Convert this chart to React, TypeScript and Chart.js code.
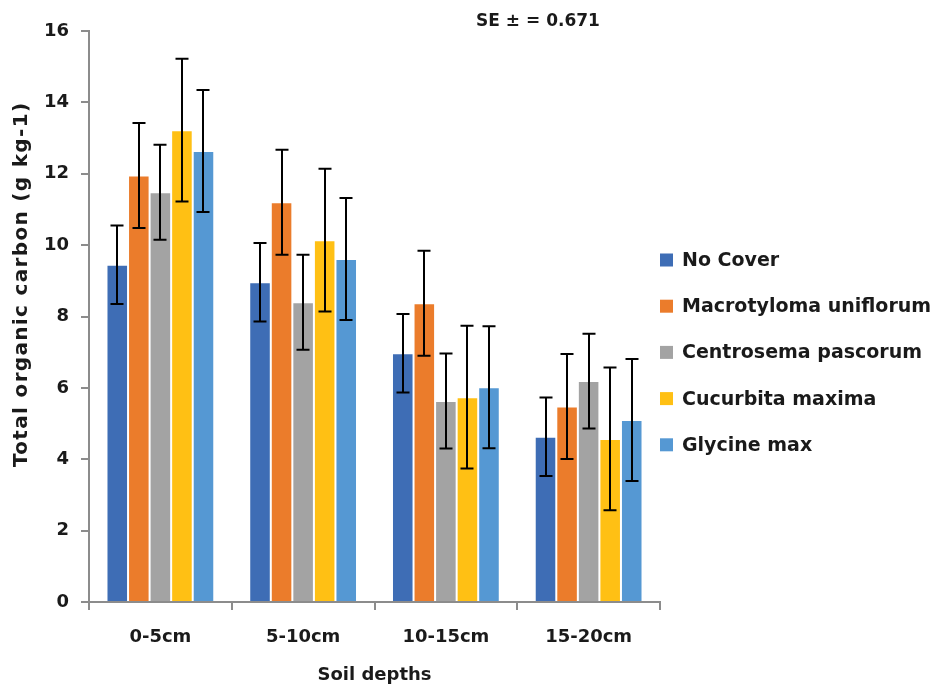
import React, { useEffect, useRef } from "react";
import { Chart, registerables } from "chart.js";

Chart.register(...registerables);

const depths = ["0-5cm", "5-10cm", "10-15cm", "15-20cm"];
const seriesNames = [
  "No Cover",
  "Macrotyloma uniflorum",
  "Centrosema pascorum",
  "Cucurbita maxima",
  "Glycine max",
];
const noCover = [9.45, 8.96, 6.97, 4.63];
const macrotyloma = [11.95, 11.2, 8.37, 5.48];
const centrosema = [11.48, 8.4, 5.63, 6.19];
const cucurbita = [13.22, 10.14, 5.74, 4.57];
const glycine = [12.64, 9.61, 6.02, 5.1];
const noCoverErr = [1.1, 1.1, 1.1, 1.1];
const macrotylomaErr = [1.47, 1.47, 1.47, 1.47];
const centrosemaErr = [1.33, 1.33, 1.33, 1.33];
const cucurbitaErr = [2.0, 2.0, 2.0, 2.0];
const glycineErr = [1.71, 1.71, 1.71, 1.71];
const yTicks = [0, 2, 4, 6, 8, 10, 12, 14, 16];
const seLabel = "SE \u00B1 = 0.671";
const yTitle = "Total organic carbon (g kg-1)";
const xTitle = "Soil depths";

const colors = ["#3E6DB5", "#EB7C2B", "#A3A3A3", "#FFC014", "#5598D3"];
const values = [noCover, macrotyloma, centrosema, cucurbita, glycine];
const errors = [noCoverErr, macrotylomaErr, centrosemaErr, cucurbitaErr, glycineErr];

const FONT = "'DejaVu Sans', sans-serif";
const TEXT = "#1a1a1a";
const AXIS = "#8c8c8c";

const errorBars = {
  id: "errorBars",
  afterDatasetsDraw(chart: any) {
    const ctx = chart.ctx;
    const y = chart.scales.y;
    ctx.save();
    ctx.strokeStyle = "#000";
    ctx.lineWidth = 2;
    chart.data.datasets.forEach((ds: any, i: number) => {
      const meta = chart.getDatasetMeta(i);
      meta.data.forEach((bar: any, j: number) => {
        const v = ds.data[j];
        const e = errors[i][j];
        const top = y.getPixelForValue(v + e);
        const bot = y.getPixelForValue(v - e);
        const x = Math.round(bar.x);
        ctx.beginPath();
        ctx.moveTo(x, top);
        ctx.lineTo(x, bot);
        ctx.moveTo(x - 6.5, top);
        ctx.lineTo(x + 6.5, top);
        ctx.moveTo(x - 6.5, bot);
        ctx.lineTo(x + 6.5, bot);
        ctx.stroke();
      });
    });
    ctx.restore();
  },
};

// SE note, rotated value-axis title and the series key on the right
const annotations = {
  id: "annotations",
  afterDraw(chart: any) {
    const ctx = chart.ctx;
    ctx.save();
    ctx.textBaseline = "middle";
    ctx.fillStyle = TEXT;

    ctx.font = `bold 17px ${FONT}`;
    ctx.textAlign = "center";
    ctx.fillText(seLabel, 538, 22);

    ctx.save();
    ctx.font = `bold 20px ${FONT}`;
    const w = ctx.measureText(yTitle).width;
    const spacing = Math.max(0, (364 - w) / (yTitle.length - 1));
    (ctx as any).letterSpacing = `${spacing.toFixed(2)}px`;
    ctx.translate(22, 285);
    ctx.rotate(-Math.PI / 2);
    ctx.textAlign = "center";
    ctx.fillText(yTitle, spacing / 2, 0);
    ctx.restore();

    ctx.font = `bold 19px ${FONT}`;
    ctx.textAlign = "left";
    chart.data.datasets.forEach((ds: any, i: number) => {
      const cy = 260 + i * 46.2;
      ctx.fillStyle = ds.backgroundColor;
      ctx.fillRect(660, cy - 6.5, 13, 13);
      ctx.fillStyle = TEXT;
      ctx.fillText(ds.label, 682, cy + 1);
    });
    ctx.restore();
  },
};

export default function App() {
  const ref = useRef<HTMLCanvasElement | null>(null);

  useEffect(() => {
    if (!ref.current) return;
    const chart = new Chart(ref.current, {
      type: "bar",
      data: {
        labels: depths,
        datasets: seriesNames.map((name, i) => ({
          label: name,
          data: values[i],
          backgroundColor: colors[i],
          borderColor: "rgba(255,255,255,0.35)",
          borderWidth: 1,
          barPercentage: 1,
          categoryPercentage: 0.755,
        })),
      },
      options: {
        animation: false,
        responsive: true,
        maintainAspectRatio: false,
        layout: { padding: { top: 31, right: 276, left: 0, bottom: 0 } },
        plugins: {
          legend: { display: false },
          tooltip: { enabled: false },
        },
        scales: {
          x: {
            afterFit: (s: any) => {
              s.height = 84;
            },
            border: { display: true, color: AXIS, width: 2 },
            grid: {
              display: true,
              drawOnChartArea: false,
              drawTicks: true,
              tickLength: 8,
              color: AXIS,
              lineWidth: 2,
              offset: true,
            },
            ticks: {
              color: TEXT,
              font: { family: FONT, size: 18, weight: "bold" },
              padding: 17,
            },
            title: {
              display: true,
              text: xTitle,
              color: TEXT,
              font: { family: FONT, size: 18, weight: "bold" },
              padding: { top: 0, bottom: 0 },
            },
          },
          y: {
            min: 0,
            max: 16,
            afterFit: (s: any) => {
              s.width = 89;
            },
            afterBuildTicks: (s: any) => {
              s.ticks = yTicks.map((v) => ({ value: v }));
            },
            border: { display: true, color: AXIS, width: 2 },
            grid: {
              display: true,
              drawOnChartArea: false,
              drawTicks: true,
              tickLength: 8,
              color: AXIS,
              lineWidth: 2,
            },
            ticks: {
              color: TEXT,
              font: { family: FONT, size: 18, weight: "bold" },
              padding: 12,
            },
          },
        },
      },
      plugins: [errorBars, annotations],
    });
    return () => chart.destroy();
  }, []);

  return (
    <div
      style={{
        position: "fixed",
        left: 0,
        top: 0,
        width: 936,
        height: 686,
        background: "#fff",
      }}
    >
      <canvas ref={ref} />
    </div>
  );
}
